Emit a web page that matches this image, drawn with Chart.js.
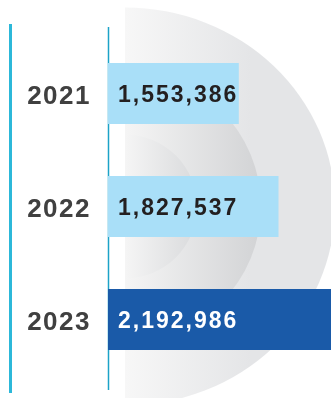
<!DOCTYPE html>
<html>
<head>
<meta charset="utf-8">
<script src="https://cdn.jsdelivr.net/npm/chart.js@4.4.1/dist/chart.umd.min.js"></script>
<style>
  html, body { margin: 0; padding: 0; background: #ffffff; }
  #wrap { position: relative; width: 331px; height: 398px; }
</style>
</head>
<body>
<div id="wrap"><canvas id="bar-chart"></canvas></div>
<script>
const years = ['2021', '2022', '2023'];
const totals = [1553386, 1827537, 2192986];
const barColors = ['#a9dff8', '#a9dff8', '#1a5aa8'];
const valueColors = ['#231f20', '#231f20', '#ffffff'];

const fontFamily = '"Liberation Sans", Arial, sans-serif';

// 背景的灰色半圓（裝飾用）
const backdropPlugin = {
  id: 'backdrop',
  beforeDraw(chart) {
    const { ctx, chartArea } = chart;
    const cx = chartArea.left + 17;
    const cy = (chartArea.top + chartArea.bottom) / 2;
    const rings = [
      { rx: 210, ry: 199, stops: [[0, '#f7f7f7'], [0.6, '#e4e5e7'], [1, '#e4e5e7']] },
      { rx: 136, ry: 136, stops: [[0, '#f5f5f5'], [1, '#d2d3d5']] },
      { rx: 72, ry: 72, stops: [[0, '#f5f5f5'], [1, '#d9dadc']] }
    ];
    ctx.save();
    rings.forEach(ring => {
      const grad = ctx.createLinearGradient(cx, 0, cx + ring.rx, 0);
      ring.stops.forEach(([at, color]) => grad.addColorStop(at, color));
      ctx.fillStyle = grad;
      ctx.beginPath();
      ctx.ellipse(cx, cy, ring.rx, ring.ry, 0, -Math.PI / 2, Math.PI / 2);
      ctx.closePath();
      ctx.fill();
    });
    ctx.restore();

    // 左側兩條青色直線
    ctx.save();
    ctx.strokeStyle = '#2cb8d9';
    ctx.lineWidth = 3;
    ctx.beginPath();
    ctx.moveTo(10.5, chartArea.top - 13);
    ctx.lineTo(10.5, chartArea.bottom + 17);
    ctx.stroke();
    ctx.strokeStyle = '#1ca3c8';
    ctx.lineWidth = 1.5;
    ctx.beginPath();
    ctx.moveTo(chartArea.left + 0.5, chartArea.top - 10);
    ctx.lineTo(chartArea.left + 0.5, chartArea.bottom + 14);
    ctx.stroke();
    ctx.restore();

    // 年份標籤字距
    ctx.letterSpacing = '1.5px';
  }
};

const valueLabelPlugin = {
  id: 'valueLabels',
  afterDatasetsDraw(chart) {
    const { ctx, chartArea } = chart;
    const meta = chart.getDatasetMeta(0);
    ctx.save();
    ctx.letterSpacing = '2px';
    ctx.font = `bold 23px ${fontFamily}`;
    ctx.textAlign = 'left';
    ctx.textBaseline = 'middle';
    meta.data.forEach((bar, i) => {
      ctx.fillStyle = valueColors[i];
      ctx.fillText(totals[i].toLocaleString('en-US'), chartArea.left + 10, bar.y + 2);
    });
    ctx.restore();
  }
};

const ctx = document.getElementById('bar-chart').getContext('2d');
new Chart(ctx, {
  type: 'bar',
  data: {
    labels: years,
    datasets: [{
      data: totals,
      backgroundColor: barColors,
      borderWidth: 0,
      categoryPercentage: 0.6,
      barPercentage: 0.9
    }]
  },
  options: {
    indexAxis: 'y',
    responsive: true,
    maintainAspectRatio: false,
    animation: false,
    layout: { padding: { top: 37, bottom: 22, left: 0, right: 0 } },
    plugins: {
      legend: { display: false },
      tooltip: { enabled: false }
    },
    scales: {
      x: {
        display: false,
        min: 650000,
        max: 2190000
      },
      y: {
        grid: { display: false, drawTicks: false },
        border: { display: false },
        afterFit(scale) {
          scale.width = 108;
          scale.paddingTop = 0;
          scale.paddingBottom = 0;
        },
        ticks: {
          padding: 17,
          labelOffset: 3,
          color: '#404040',
          font: { family: fontFamily, size: 26, weight: 'bold' }
        }
      }
    }
  },
  plugins: [backdropPlugin, valueLabelPlugin]
});
</script>
</body>
</html>
